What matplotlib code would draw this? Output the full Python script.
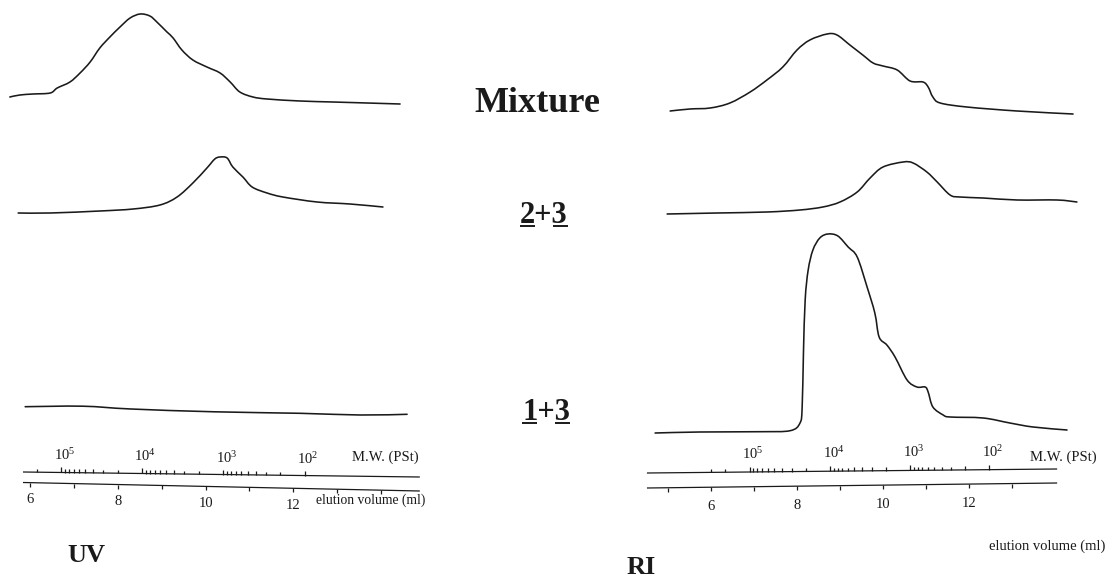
import numpy as np
import matplotlib
matplotlib.use("Agg")
import matplotlib.pyplot as plt
from matplotlib.lines import Line2D
from matplotlib.path import Path
from matplotlib.patches import PathPatch

plt.rcParams['font.family'] = ['Liberation Serif', 'DejaVu Serif']
plt.rcParams['mathtext.fontset'] = 'custom'
plt.rcParams['mathtext.rm'] = 'Liberation Serif'
plt.rcParams['mathtext.it'] = 'Liberation Serif:italic'
plt.rcParams['mathtext.bf'] = 'Liberation Serif:bold'

# ---------------- data (elution volume in ml, detector signal in arbitrary units) -------------
uv_mix_v = [5.54, 5.77, 6.07, 6.46, 6.62, 6.91, 7.14, 7.37, 7.59, 7.82, 8.05, 8.28, 8.51, 8.73,
            8.89, 9.12, 9.26, 9.46, 9.71, 10.03, 10.33, 10.56, 10.78, 11.08, 11.40, 12.15, 12.90,
            13.68, 14.43]
uv_mix_s = [3, 5, 6, 7, 12, 18, 27, 38, 52, 63, 73, 82, 86, 84,
            78, 68, 62, 50, 40, 33, 27, 18, 8, 3, 1, -1, -2, -3, -4]

uv_23_v = [5.73, 6.46, 7.59, 8.35, 8.96, 9.35, 9.71, 10.03, 10.21, 10.33, 10.49, 10.62, 10.85,
           11.06, 11.40, 11.76, 12.54, 13.29, 14.04]
uv_23_s = [2, 2, 4, 6, 10, 18, 32, 47, 56, 58, 57, 48, 38, 28, 22, 18, 13, 11, 8]

uv_13_v = [5.89, 7.20, 8.30, 10.20, 12.15, 13.52, 14.59]
uv_13_s = [8.3, 8.8, 6.0, 3.2, 1.7, 0.0, 0.7]

ri_mix_v = [5.05, 5.51, 5.98, 6.44, 6.91, 7.30, 7.67, 8.00, 8.30, 8.70, 8.93, 9.23, 9.53, 9.77,
            10.00, 10.33, 10.63, 10.93, 11.05, 11.16, 11.33, 11.95, 13.12, 14.42]
ri_mix_s = [4, 6, 7, 12, 23, 35, 48, 65, 75, 81, 80, 70, 60, 52,
            49, 45, 34, 33, 28, 18, 12, 8, 4, 1]

ri_23_v = [4.98, 6.14, 7.30, 8.07, 8.60, 9.00, 9.40, 9.70, 10.00, 10.47, 10.70, 11.02, 11.26,
           11.56, 11.79, 12.33, 13.12, 14.05, 14.51]
ri_23_s = [1, 2, 3, 5, 8, 13, 23, 37, 48, 53, 52, 43, 33, 20, 18, 17, 15, 15, 13]

ri_13_v = [4.70, 5.74, 7.14, 7.84, 8.07, 8.12, 8.15, 8.19, 8.26, 8.37, 8.53, 8.72, 8.95, 9.19,
           9.40, 9.63, 9.81, 9.91, 10.09, 10.28, 10.56, 10.79, 10.98, 11.05, 11.16, 11.40,
           11.56, 12.33, 12.95, 13.49, 14.28]
ri_13_s = [2, 3, 3.3, 4.3, 12, 28, 82, 135, 165, 185, 197, 201, 199, 188,
           178, 148, 122, 98, 90, 78, 55, 48, 48, 43, 28, 20,
           18, 17, 12, 8, 5]

sample_labels = ["Mixture", "2+3", "1+3"]
detector_labels = ["UV", "RI"]

uv_elution_ticks = [6, 7, 8, 9, 10, 11, 12, 13, 14]
ri_elution_ticks = [5, 6, 7, 8, 9, 10, 11, 12, 13]
elution_tick_labels = [6, 8, 10, 12]

mw_exponents = [5, 4, 3, 2]
uv_mw_decade_ml = [6.71, 8.55, 10.40, 12.26]   # calibration: position of 10^5 ... 10^2
ri_mw_decade_ml = [6.90, 8.77, 10.63, 12.47]
uv_mw_above = [2]          # extra minor ticks k*10^5
ri_mw_above = [2, 3]

# ---------------- layout ----------------
W, H = 1115, 586
INK = '#1a1a1a'
fig = plt.figure(figsize=(W / 100, H / 100), dpi=100)
fig.patch.set_facecolor('white')


def panel(left_px, right_px, cal_px, cal_v, px_per_ml):
    ax = fig.add_axes([left_px / W, 0, (right_px - left_px) / W, 1])
    ax.set_xlim(cal_v + (left_px - cal_px) / px_per_ml, cal_v + (right_px - cal_px) / px_per_ml)
    ax.set_ylim(H, 0)
    ax.axis('off')
    return ax


axL = panel(0, 440, 30, 6.0, 43.9)
axR = panel(625, 1115, 668, 5.0, 43.0)

uv_traces = [(uv_mix_v, uv_mix_s, 100), (uv_23_v, uv_23_s, 215), (uv_13_v, uv_13_s, 415)]
ri_traces = [(ri_mix_v, ri_mix_s, 115), (ri_23_v, ri_23_s, 215), (ri_13_v, ri_13_s, 435)]


def smooth_trace(ax, x, y):
    """Draw a pen-recorder style smooth curve through the read points (Catmull-Rom as Bezier)."""
    P = np.column_stack([x, y]).astype(float)
    Q = np.vstack([P[0], P, P[-1]])
    verts = [P[0]]
    codes = [Path.MOVETO]
    for i in range(1, len(Q) - 2):
        p0, p1, p2, p3 = Q[i - 1], Q[i], Q[i + 1], Q[i + 2]
        verts += [p1 + (p2 - p0) / 6.0, p2 - (p3 - p1) / 6.0, p2]
        codes += [Path.CURVE4] * 3
    ax.add_patch(PathPatch(Path(verts, codes), fill=False, edgecolor=INK, lw=1.15,
                           joinstyle='round', capstyle='round', transform=ax.transData))


for ax, traces in ((axL, uv_traces), (axR, ri_traces)):
    for v, s, base in traces:
        smooth_trace(ax, v, base - np.asarray(s, float))


def draw_scale(ax, v_span, mw_rows, el_rows, el_ticks, dec_ml, above, lab_off, mw_lab_off):
    v0, v1 = v_span

    def row(rows, v):
        return rows[0] + (rows[1] - rows[0]) * (v - v0) / (v1 - v0)

    kw = dict(color=INK, lw=0.9, solid_capstyle='butt')
    ax.plot([v0, v1], mw_rows, **kw)
    ax.plot([v0, v1], el_rows, **kw)
    for t in el_ticks:
        r = row(el_rows, t)
        ax.plot([t, t], [r, r + 4], **kw)
    for t in elution_tick_labels:
        ax.text(t, row(el_rows, t) + lab_off, str(t), ha='center', va='center',
                fontsize=10.5, color=INK)
    step = dec_ml[1] - dec_ml[0]
    for e, p in zip(mw_exponents, dec_ml):
        r = row(mw_rows, p)
        ax.plot([p, p], [r, r - 5], **kw)
        ax.text(p - 0.17, r - mw_lab_off, r'$10^{%d}$' % e, ha='left', va='baseline',
                fontsize=10.5, color=INK)
    for i in range(len(dec_ml) - 1):
        p0, p1 = dec_ml[i], dec_ml[i + 1]
        for m in range(2, 10):
            p = p0 + (1 - np.log10(m)) * (p1 - p0)
            r = row(mw_rows, p)
            ax.plot([p, p], [r, r - 3.5], **kw)
    for m in above:
        p = dec_ml[0] - np.log10(m) * step
        r = row(mw_rows, p)
        ax.plot([p, p], [r, r - 3.5], **kw)


draw_scale(axL, (5.84, 14.88), (472, 477), (482.5, 491), uv_elution_ticks, uv_mw_decade_ml,
           uv_mw_above, 17, 12)
draw_scale(axR, (4.51, 14.05), (473, 469), (488, 483), ri_elution_ticks, ri_mw_decade_ml,
           ri_mw_above, 19, 13)


def ftext(x, y, s, **kw):
    return fig.text(x / W, 1 - y / H, s, color=INK, **kw)


ftext(352, 461, "M.W. (PSt)", ha='left', va='baseline', fontsize=10.5)
ftext(1030, 461, "M.W. (PSt)", ha='left', va='baseline', fontsize=10.5)
ftext(316, 500, "elution volume (ml)", ha='left', va='center', fontsize=9.8)
ftext(1105, 546, "elution volume (ml)", ha='right', va='center', fontsize=10.5)

ftext(537, 103, sample_labels[0], ha='center', va='center', fontsize=26, fontweight='bold')
ftext(86, 555, detector_labels[0], ha='center', va='center', fontsize=19, fontweight='bold')
ftext(641, 568, detector_labels[1], ha='center', va='center', fontsize=19, fontweight='bold')

fig.canvas.draw()
renderer = fig.canvas.get_renderer()


def underlined(xc, yb, s, size, idx):
    t = ftext(xc, yb, s, ha='center', va='baseline', fontsize=size, fontweight='bold')
    fig.canvas.draw()
    bb = t.get_window_extent(renderer)
    fp = t.get_fontproperties()

    def w(sub):
        if not sub:
            return 0.0
        return renderer.get_text_width_height_descent(sub, fp, ismath=False)[0]

    total = w(s)
    x0 = bb.x0 + (bb.width - total) / 2
    yline = (H - yb - 3) / H
    for i in idx:
        a, b = x0 + w(s[:i]), x0 + w(s[:i + 1])
        fig.add_artist(Line2D([a / W, b / W], [yline, yline], transform=fig.transFigure,
                              color=INK, lw=1.4, solid_capstyle='butt'))


underlined(544, 223, sample_labels[1], 22, [0, 2])
underlined(546, 420, sample_labels[2], 22, [0, 2])

fig.savefig("out.png", dpi=100, facecolor='white')
